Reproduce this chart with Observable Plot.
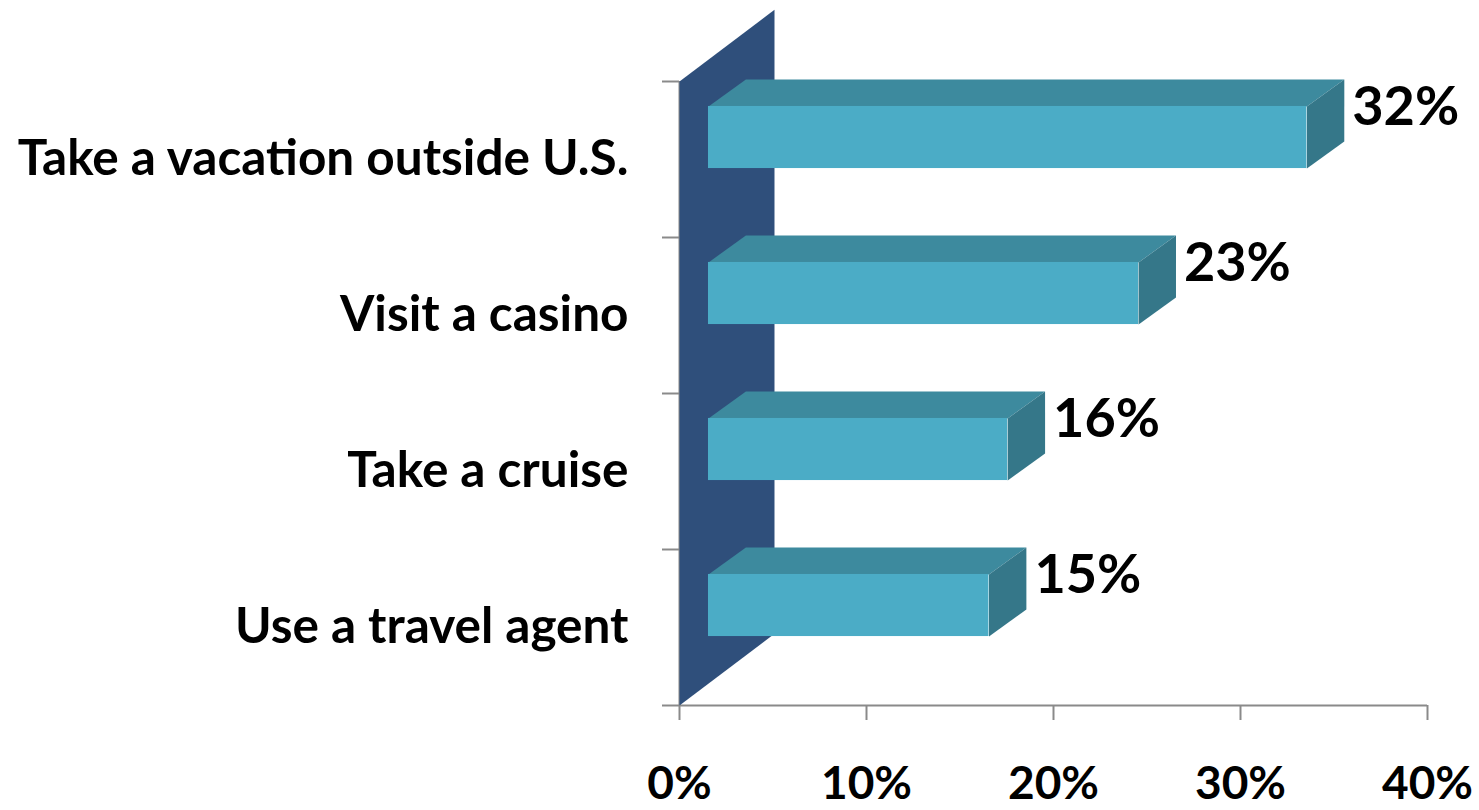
<!DOCTYPE html>
<html>
<head>
<meta charset="utf-8">
<script src="https://cdn.jsdelivr.net/npm/d3@7"></script>
<script src="https://cdn.jsdelivr.net/npm/@observablehq/plot@0.6"></script>
<style>
  html, body { margin: 0; padding: 0; background: #fff; }
  #chart { width: 1479px; height: 810px; }
</style>
</head>
<body>
<div id="chart"></div>
<script>
// ---- data ----
const categories = ["Take a vacation outside U.S.", "Visit a casino", "Take a cruise", "Use a travel agent"];
const values = [32, 23, 16, 15];
const xTicks = [0, 10, 20, 30, 40];

// ---- 3D look (styling, in scale units) ----
const OFF = 1.55;   // front face offset from the wall (% units)
const DX = 2.0;     // bar depth, x (% units)
const DY = 0.173;   // bar depth, y (band units)
const F1 = 0.16, F2 = 0.558; // front face top/bottom within band
const WX = 5.08, WY = 0.46;  // wall depth

const colors = { front: "#4bacc6", top: "#3d8a9e", side: "#357789", wall: "#2f4f7b", axis: "#8a8a8a" };

// derived tables
const rows = categories.map((c, i) => ({ cat: c, i, v: values[i] }));
const topFaces = rows.flatMap(r => [
  { id: r.i, x: OFF, y: r.i + F1 },
  { id: r.i, x: r.v + OFF, y: r.i + F1 },
  { id: r.i, x: r.v + OFF + DX, y: r.i + F1 - DY },
  { id: r.i, x: OFF + DX, y: r.i + F1 - DY }
]);
const sideFaces = rows.flatMap(r => [
  { id: r.i, x: r.v + OFF, y: r.i + F1 },
  { id: r.i, x: r.v + OFF + DX, y: r.i + F1 - DY },
  { id: r.i, x: r.v + OFF + DX, y: r.i + F2 - DY },
  { id: r.i, x: r.v + OFF, y: r.i + F2 }
]);
const n = categories.length;
const wall = [
  { x: 0, y: 0 }, { x: 0, y: n }, { x: WX, y: n - WY }, { x: WX, y: -WY }
];
const bandEdges = d3.range(n + 1);
const bandCenters = categories.map((c, i) => i + 0.5);

const font = "Lato, 'Open Sans', sans-serif";

const chart = Plot.plot({
  width: 1479,
  height: 810,
  marginLeft: 679,
  marginRight: 52,
  marginTop: 81,
  marginBottom: 105,
  style: { fontFamily: font, fontWeight: "bold", color: "#000", background: "#fff" },
  x: { domain: [0, 40], label: null },
  y: { domain: [0, n], reverse: true, label: null },
  marks: [
    // x axis line
    Plot.ruleY([n], { stroke: colors.axis, strokeWidth: 2 }),
    // y axis line
    Plot.ruleX([0], { y1: 0, y2: n, stroke: colors.axis, strokeWidth: 2 }),
    // y ticks at band edges
    Plot.axisY({ ticks: bandEdges, tickSize: 17, tickFormat: () => "", label: null, stroke: colors.axis, strokeWidth: 2 }),
    // category labels
    Plot.axisY({ ticks: bandCenters, tickSize: 0, tickPadding: 51, label: null, tickFormat: d => categories[Math.floor(d)],
      fontSize: 49.5, fontFamily: font, fontWeight: "bold", fill: "#000" }),
    // x axis ticks & labels
    Plot.axisX({ ticks: xTicks, tickSize: 15, tickPadding: 46, label: null, tickFormat: d => d + "%",
      stroke: colors.axis, strokeWidth: 2, fontSize: 46, fontFamily: font, fontWeight: "bold", fill: "#000" }),
    // wall
    Plot.line(wall, { x: "x", y: "y", fill: colors.wall, stroke: "none" }),
    // bars
    Plot.line(topFaces, { x: "x", y: "y", z: "id", fill: colors.top, stroke: "none" }),
    Plot.line(sideFaces, { x: "x", y: "y", z: "id", fill: colors.side, stroke: "none" }),
    Plot.rect(rows, { x1: OFF, x2: d => d.v + OFF, y1: d => d.i + F1, y2: d => d.i + F2, fill: colors.front }),
    // value labels
    Plot.text(rows, { x: d => d.v + OFF + DX, y: d => d.i + 0.17, text: d => d.v + "%", textAnchor: "start", dx: 8,
      fontSize: 54, fontFamily: font, fontWeight: "bold", fill: "#000" })
  ]
});
document.getElementById("chart").appendChild(chart);
</script>
</body>
</html>
